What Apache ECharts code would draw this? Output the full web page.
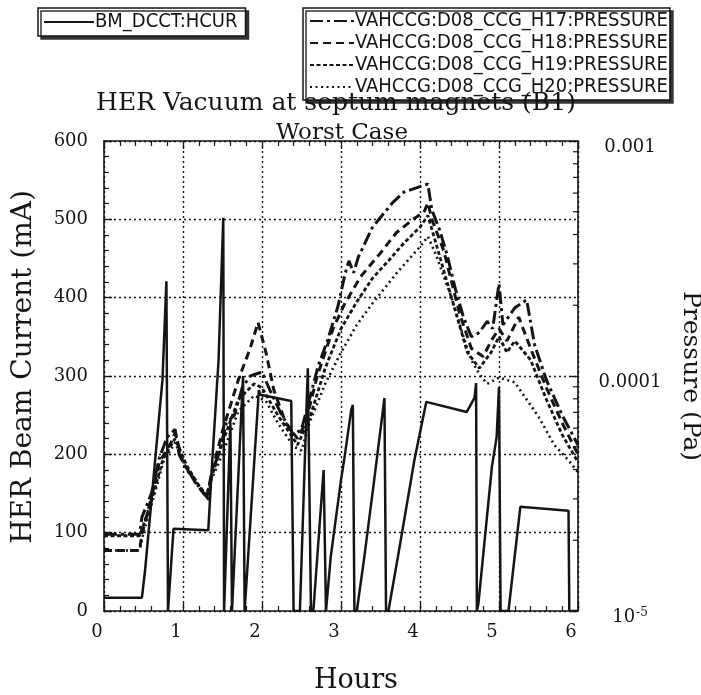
<!DOCTYPE html>
<html>
<head>
<meta charset="utf-8">
<script src="https://cdn.jsdelivr.net/npm/echarts@6/dist/echarts.min.js"></script>
<style>
html,body{margin:0;padding:0;background:#fff;}
#chart{width:701px;height:695px;}
</style>
</head>
<body>
<div id="chart"></div>
<script>
// ---------- data ----------
const xTicks = [0, 1, 2, 3, 4, 5, 6];
const leftTicks = [0, 100, 200, 300, 400, 500, 600];
const rightMinorTicks = [2e-5,3e-5,4e-5,5e-5,6e-5,7e-5,8e-5,9e-5,2e-4,3e-4,4e-4,5e-4,6e-4,7e-4,8e-4,9e-4];

// BM_DCCT:HCUR (mA)
const curHours = [0,0.48,0.52,0.74,0.79,0.81,0.83,0.88,1.32,1.36,1.45,1.51,1.52,1.54,1.60,1.62,1.64,1.76,1.78,1.80,1.96,1.98,2.37,2.40,2.48,2.58,2.62,2.65,2.78,2.81,2.87,3.00,3.04,3.13,3.15,3.17,3.20,3.29,3.42,3.55,3.57,3.60,3.72,3.93,4.08,4.59,4.69,4.71,4.72,4.74,4.91,4.97,5.00,5.02,5.12,5.27,5.88,5.89,6.00];
const curValues = [17,17,52,295,421,0,0,105,103,175,320,502,0,0,240,0,0,300,0,0,282,276,268,0,0,310,0,0,180,0,69,167,193,257,263,0,0,65,167,272,0,0,69,193,267,254,272,291,0,10,184,222,286,0,0,133,128,0,0];

// VAHCCG:D08_CCG_H17:PRESSURE (Pa)
const h17Hours = [0,0.45,0.48,0.6,0.7,0.8,0.9,0.95,1.05,1.15,1.25,1.33,1.36,1.45,1.55,1.65,1.75,1.85,2.0,2.1,2.25,2.4,2.5,2.6,2.71,2.83,2.96,3.05,3.1,3.16,3.22,3.4,3.65,3.8,4.1,4.15,4.25,4.35,4.45,4.55,4.65,4.75,4.85,4.92,5.0,5.05,5.2,5.35,5.45,5.6,5.8,6.0];
const h17Values = [2.12e-5,2.12e-5,2.51e-5,3.16e-5,4.47e-5,5.50e-5,5.93e-5,4.64e-5,3.98e-5,3.63e-5,3.21e-5,2.97e-5,3.86e-5,4.64e-5,6.31e-5,6.81e-5,8.91e-5,1.00e-4,1.04e-4,8.71e-5,6.81e-5,5.62e-5,5.93e-5,7.94e-5,1.10e-4,1.42e-4,1.97e-4,2.71e-4,3.09e-4,2.75e-4,3.21e-4,4.30e-4,5.45e-4,6.07e-4,6.56e-4,5.09e-4,4.17e-4,3.21e-4,2.33e-4,1.78e-4,1.47e-4,1.53e-4,1.71e-4,1.59e-4,2.47e-4,1.65e-4,1.95e-4,2.11e-4,1.36e-4,9.62e-5,6.81e-5,5.09e-5];

// VAHCCG:D08_CCG_H18:PRESSURE (Pa)
const h18Hours = [0,0.45,0.48,0.6,0.7,0.85,0.9,1.0,1.15,1.3,1.36,1.5,1.7,1.85,1.95,2.05,2.15,2.3,2.45,2.55,2.7,2.9,3.05,3.25,3.5,3.7,3.9,4.05,4.1,4.15,4.3,4.5,4.65,4.8,4.9,5.0,5.1,5.25,5.4,5.6,5.8,6.0];
const h18Values = [1.81e-5,1.81e-5,2.12e-5,3.04e-5,4.30e-5,5.21e-5,5.75e-5,4.30e-5,3.55e-5,3.04e-5,3.83e-5,5.84e-5,9.62e-5,1.31e-4,1.69e-4,1.26e-4,8.71e-5,6.31e-5,5.41e-5,6.31e-5,1.00e-4,1.59e-4,2.04e-4,2.65e-4,3.34e-4,4.07e-4,4.61e-4,4.98e-4,5.45e-4,4.64e-4,3.42e-4,1.85e-4,1.31e-4,1.21e-4,1.41e-4,1.59e-4,1.41e-4,1.78e-4,1.31e-4,8.91e-5,6.31e-5,4.64e-5];

// VAHCCG:D08_CCG_H19:PRESSURE (Pa)
const h19Hours = [0,0.45,0.5,0.6,0.75,0.9,1.05,1.2,1.3,1.36,1.5,1.7,1.9,2.0,2.2,2.45,2.6,2.8,3.0,3.2,3.4,3.6,3.8,4.0,4.1,4.2,4.4,4.6,4.75,4.9,5.0,5.1,5.2,5.4,5.6,5.8,6.0];
const h19Values = [2.09e-5,2.09e-5,2.33e-5,2.93e-5,4.47e-5,5.41e-5,4.14e-5,3.42e-5,3.11e-5,3.69e-5,5.21e-5,7.94e-5,9.26e-5,8.91e-5,6.81e-5,5.09e-5,6.56e-5,1.08e-4,1.59e-4,2.07e-4,2.61e-4,3.09e-4,3.69e-4,4.30e-4,4.82e-4,3.69e-4,2.15e-4,1.26e-4,1.08e-4,1.26e-4,1.47e-4,1.26e-4,1.41e-4,1.17e-4,7.94e-5,5.62e-5,4.30e-5];

// VAHCCG:D08_CCG_H20:PRESSURE (Pa)
const h20Hours = [0,0.45,0.5,0.6,0.75,0.9,1.05,1.2,1.3,1.36,1.5,1.7,1.9,2.05,2.2,2.4,2.5,2.6,2.8,3.0,3.2,3.4,3.7,4.0,4.1,4.2,4.4,4.55,4.65,4.75,4.85,5.0,5.2,5.35,5.5,5.7,5.9,6.0];
const h20Values = [1.81e-5,1.81e-5,2.15e-5,2.82e-5,4.30e-5,5.21e-5,3.98e-5,3.36e-5,3.04e-5,3.63e-5,4.64e-5,7.08e-5,8.25e-5,7.82e-5,6.31e-5,5.01e-5,4.82e-5,6.31e-5,9.26e-5,1.26e-4,1.65e-4,2.04e-4,2.73e-4,3.55e-4,3.92e-4,3.29e-4,2.15e-4,1.47e-4,1.17e-4,1.02e-4,9.26e-5,9.85e-5,9.40e-5,7.94e-5,6.71e-5,5.09e-5,4.30e-5,3.89e-5];

const seriesNames = ['BM_DCCT:HCUR','VAHCCG:D08_CCG_H17:PRESSURE','VAHCCG:D08_CCG_H18:PRESSURE','VAHCCG:D08_CCG_H19:PRESSURE','VAHCCG:D08_CCG_H20:PRESSURE'];

// ---------- chart ----------
const zip = (a, b) => a.map((x, i) => [x, b[i]]);
const INK = '#151515';
const SERIF = "'DejaVu Serif', 'Liberation Serif', serif";
const NARROW = "'Liberation Sans Narrow', 'DejaVu Sans Condensed', 'Liberation Sans', sans-serif";

const chart = echarts.init(document.getElementById('chart'), null, {renderer: 'canvas'});

const dottedGrid = {show: true, lineStyle: {color: INK, width: 1.4, type: [2, 3]}};

function pLine(name, hours, vals, dash, width) {
  return {
    name: name, type: 'line', xAxisIndex: 0, yAxisIndex: 1,
    data: zip(hours, vals), symbol: 'none', showSymbol: false,
    lineStyle: {color: INK, width: width, type: dash, cap: 'butt'},
    itemStyle: {color: INK},
    animation: false, z: 3
  };
}

const legendBase = {
  orient: 'vertical', itemHeight: 12, selectedMode: false,
  borderColor: INK, borderWidth: 1.5, backgroundColor: '#fff',
  shadowColor: '#333', shadowOffsetX: 3, shadowOffsetY: 3, shadowBlur: 0,
  itemStyle: {opacity: 0, borderWidth: 0}
};

const option = {
  backgroundColor: '#ffffff',
  animation: false,
  title: [
    {text: 'HER Vacuum at septum magnets (B1)', left: 331, top: 86, textAlign: 'center',
     textStyle: {fontFamily: SERIF, fontSize: 25, fontWeight: 'normal', color: INK}},
    {text: 'Worst Case', left: 337, top: 117, textAlign: 'center',
     textStyle: {fontFamily: SERIF, fontSize: 23, fontWeight: 'normal', color: INK}},
    {text: 'Hours', left: 351, top: 662, textAlign: 'center',
     textStyle: {fontFamily: SERIF, fontSize: 27, fontWeight: 'normal', color: INK}}
  ],
  legend: [
    Object.assign({}, legendBase, {
      data: [seriesNames[0]], left: 38, top: 8,
      padding: [4, 8, 4, 5], itemWidth: 50, itemGap: 2,
      textStyle: {fontFamily: NARROW, fontSize: 20, color: INK, padding: [0, 0, 0, -4]}}),
    Object.assign({}, legendBase, {
      data: seriesNames.slice(1), left: 303, top: 8,
      padding: [3, 2, 3, 6], itemWidth: 44, itemGap: 2,
      textStyle: {fontFamily: NARROW, fontSize: 20, lineHeight: 20, color: INK, padding: [0, 0, 0, -4]}})
  ],
  grid: {left: 104, right: 123, top: 141, bottom: 84, containLabel: false, outerBoundsMode: 'none'},
  xAxis: [
    {type: 'value', min: xTicks[0], max: xTicks[xTicks.length - 1], interval: 1, position: 'bottom',
     axisLine: {show: true, onZero: false, lineStyle: {color: INK, width: 1.6}},
     axisTick: {show: true, inside: true, length: 8, lineStyle: {color: INK, width: 1.3}},
     minorTick: {show: true, splitNumber: 5, length: 5, lineStyle: {color: INK, width: 1.2}},
     splitLine: dottedGrid,
     axisLabel: {fontFamily: SERIF, fontSize: 18, color: INK, margin: 12, padding: [0, 14, 0, 0],
                 formatter: v => String(v)}},
    {type: 'value', min: xTicks[0], max: xTicks[xTicks.length - 1], interval: 1, position: 'top',
     axisLine: {show: true, onZero: false, lineStyle: {color: INK, width: 1.6}},
     axisTick: {show: true, inside: true, length: 8, lineStyle: {color: INK, width: 1.3}},
     minorTick: {show: true, splitNumber: 5, length: 5, lineStyle: {color: INK, width: 1.2}},
     splitLine: {show: false}, axisLabel: {show: false}}
  ],
  yAxis: [
    {type: 'value', min: leftTicks[0], max: leftTicks[leftTicks.length - 1], interval: 100, position: 'left',
     name: 'HER Beam Current (mA)', nameLocation: 'middle', nameGap: 66, nameRotate: 90,
     nameTextStyle: {fontFamily: SERIF, fontSize: 28, color: INK, padding: [0, 0, 0, 18]},
     axisLine: {show: true, onZero: false, lineStyle: {color: INK, width: 1.6}},
     axisTick: {show: true, inside: true, length: 8, lineStyle: {color: INK, width: 1.3}},
     minorTick: {show: true, splitNumber: 5, length: 5, lineStyle: {color: INK, width: 1.2}},
     splitLine: dottedGrid,
     axisLabel: {fontFamily: SERIF, fontSize: 18, color: INK, margin: 16}},
    {type: 'log', logBase: 10, min: 1e-5, max: 1e-3, position: 'right',
     name: 'Pressure (Pa)', nameLocation: 'middle', nameGap: 100, nameRotate: -90,
     nameTextStyle: {fontFamily: SERIF, fontSize: 25, color: INK},
     axisLine: {show: true, onZero: false, lineStyle: {color: INK, width: 1.6}},
     axisTick: {show: true, inside: true, length: 8, lineStyle: {color: INK, width: 1.3}},
     splitLine: {show: false},
     axisLabel: {fontFamily: SERIF, fontSize: 18, color: INK, margin: 52, align: 'center',
       padding: [12, 0, 0, 0],
       formatter: function (v) {
         const e = Math.round(Math.log10(v));
         if (e === -5) return '{b|10}{s|-5}';
         if (e === -4) return '0.0001';
         if (e === -3) return '0.001';
         return '';
       },
       rich: {b: {fontFamily: SERIF, fontSize: 18, color: INK},
              s: {fontFamily: SERIF, fontSize: 12, color: INK, verticalAlign: 'top', padding: [0, 0, 8, 1]}}}}
  ],
  series: [
    {name: seriesNames[0], type: 'line', xAxisIndex: 0, yAxisIndex: 0,
     data: zip(curHours, curValues), symbol: 'none', showSymbol: false,
     lineStyle: {color: INK, width: 2.5, type: 'solid'}, itemStyle: {color: INK},
     animation: false, z: 4},
    pLine(seriesNames[1], h17Hours, h17Values, [13, 4, 3, 4], 3),
    pLine(seriesNames[2], h18Hours, h18Values, [8, 5], 3),
    pLine(seriesNames[3], h19Hours, h19Values, [4, 2.5], 2.8),
    pLine(seriesNames[4], h20Hours, h20Values, [2, 3.5], 2.6),
    {type: 'custom', xAxisIndex: 0, yAxisIndex: 1, silent: true, clip: false, z: 5,
     data: rightMinorTicks.map(v => [xTicks[xTicks.length - 1], v]),
     renderItem: function (params, api) {
       const p = api.coord([api.value(0), api.value(1)]);
       return {type: 'line', shape: {x1: p[0] - 5, y1: p[1], x2: p[0], y2: p[1]},
               style: {stroke: INK, lineWidth: 1.2}};
     }}
  ]
};
chart.setOption(option);
</script>
</body>
</html>
